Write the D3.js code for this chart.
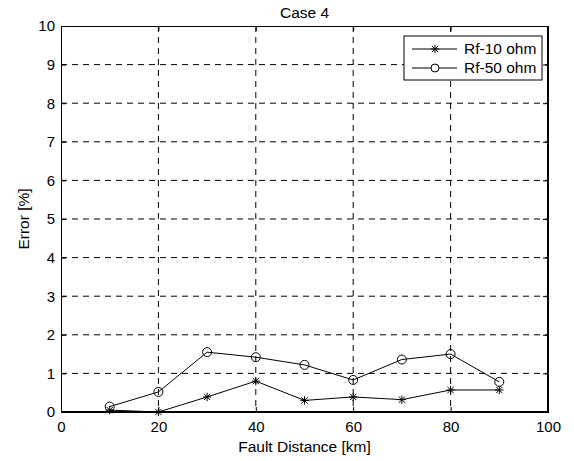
<!DOCTYPE html>
<html>
<head>
<meta charset="utf-8">
<script src="https://cdn.jsdelivr.net/npm/d3@7"></script>
<style>
  body { margin: 0; background: #fff; }
  svg text { font-family: "Liberation Sans", Arial, sans-serif; fill: #000; }
</style>
</head>
<body>
<div id="chart"></div>
<script>
// data
var distances = [10, 20, 30, 40, 50, 60, 70, 80, 90];
var rf10 = [0.05, 0.0, 0.39, 0.8, 0.3, 0.39, 0.32, 0.57, 0.57];
var rf50 = [0.14, 0.52, 1.55, 1.42, 1.22, 0.83, 1.36, 1.5, 0.78];
var seriesNames = ["Rf-10 ohm", "Rf-50 ohm"];
var xTicks = [0, 20, 40, 60, 80, 100];
var yTicks = [0, 1, 2, 3, 4, 5, 6, 7, 8, 9, 10];

var W = 574, H = 461;
var margin = { top: 26, right: 26, bottom: 49, left: 61 },
    width = W - margin.left - margin.right,
    height = H - margin.top - margin.bottom;

var svg = d3.select("#chart").append("svg")
    .attr("width", W)
    .attr("height", H);

var g = svg.append("g")
    .attr("transform", "translate(" + margin.left + "," + margin.top + ")");

var x = d3.scaleLinear().domain([0, 100]).range([0, width]);
var y = d3.scaleLinear().domain([0, 10]).range([height, 0]);

// grid
g.selectAll(".vgrid")
    .data(xTicks.slice(1, -1))
    .enter().append("line")
    .attr("x1", function (d) { return x(d); })
    .attr("x2", function (d) { return x(d); })
    .attr("y1", 0)
    .attr("y2", height)
    .attr("stroke", "#000")
    .attr("stroke-width", 1)
    .attr("stroke-dasharray", "6,5");

g.selectAll(".hgrid")
    .data(yTicks.slice(0, -1))
    .enter().append("line")
    .attr("x1", 0)
    .attr("x2", width)
    .attr("y1", function (d) { return y(d); })
    .attr("y2", function (d) { return y(d); })
    .attr("stroke", "#000")
    .attr("stroke-width", 1)
    .attr("stroke-dasharray", "6,5");

// axes, ticks pointing inward like matlab
var xAxis = g.append("g")
    .attr("transform", "translate(0," + height + ")")
    .call(d3.axisBottom(x).tickValues(xTicks).tickSize(-5).tickPadding(9).tickSizeOuter(0));
var xTop = g.append("g")
    .call(d3.axisTop(x).tickValues(xTicks).tickSize(-5).tickFormat("").tickSizeOuter(0));
var yAxis = g.append("g")
    .call(d3.axisLeft(y).tickValues(yTicks).tickSize(-5).tickPadding(6).tickSizeOuter(0));
var yRight = g.append("g")
    .attr("transform", "translate(" + width + ",0)")
    .call(d3.axisRight(y).tickValues(yTicks).tickSize(-5).tickFormat("").tickSizeOuter(0));

[xAxis, xTop, yAxis, yRight].forEach(function (a) {
    a.selectAll("path").attr("stroke", "#000");
    a.selectAll("line").attr("stroke", "#000");
    a.selectAll("text").style("font-size", "15px");
});

// thicker right and bottom border
g.append("line").attr("x1", 0).attr("x2", width + 1).attr("y1", height).attr("y2", height)
    .attr("stroke", "#000").attr("stroke-width", 2);
g.append("line").attr("x1", width).attr("x2", width).attr("y1", 0).attr("y2", height)
    .attr("stroke", "#000").attr("stroke-width", 2);

var line = d3.line()
    .x(function (d) { return x(d.x); })
    .y(function (d) { return y(d.y); });

function pts(vals) {
    return distances.map(function (d, i) { return { x: d, y: vals[i] }; });
}

function drawStar(sel, cx, cy) {
    var s = 4.2;
    var gg = sel.append("g").attr("transform", "translate(" + cx + "," + cy + ")");
    [[-s, 0, s, 0], [0, -s, 0, s], [-s * 0.75, -s * 0.75, s * 0.75, s * 0.75], [-s * 0.75, s * 0.75, s * 0.75, -s * 0.75]]
        .forEach(function (l) {
            gg.append("line")
                .attr("x1", l[0]).attr("y1", l[1]).attr("x2", l[2]).attr("y2", l[3])
                .attr("stroke", "#000").attr("stroke-width", 1);
        });
}

// Rf-10
g.append("path")
    .datum(pts(rf10))
    .attr("d", line)
    .attr("fill", "none")
    .attr("stroke", "#000")
    .attr("stroke-width", 1);
pts(rf10).forEach(function (d) { drawStar(g, x(d.x), y(d.y)); });

// Rf-50
g.append("path")
    .datum(pts(rf50))
    .attr("d", line)
    .attr("fill", "none")
    .attr("stroke", "#000")
    .attr("stroke-width", 1);
g.selectAll(".circ")
    .data(pts(rf50))
    .enter().append("circle")
    .attr("cx", function (d) { return x(d.x); })
    .attr("cy", function (d) { return y(d.y); })
    .attr("r", 4.5)
    .attr("fill", "none")
    .attr("stroke", "#000")
    .attr("stroke-width", 1);

// legend
var lg = svg.append("g").attr("transform", "translate(404,36)");
lg.append("rect")
    .attr("x", 0).attr("y", 0)
    .attr("width", 138).attr("height", 44)
    .attr("fill", "#fff")
    .attr("stroke", "#000")
    .attr("stroke-width", 1);
seriesNames.forEach(function (name, i) {
    var ly = 13 + i * 19;
    lg.append("line")
        .attr("x1", 8).attr("x2", 53)
        .attr("y1", ly).attr("y2", ly)
        .attr("stroke", "#000");
    if (i === 0) {
        drawStar(lg, 31, ly);
    } else {
        lg.append("circle").attr("cx", 31).attr("cy", ly).attr("r", 4)
            .attr("fill", "#fff").attr("stroke", "#000");
    }
    lg.append("text")
        .attr("x", 60).attr("y", ly)
        .attr("dy", "0.35em")
        .style("font-size", "15.5px")
        .text(name);
});

// title and labels
svg.append("text")
    .attr("x", margin.left + width / 2)
    .attr("y", 18)
    .attr("text-anchor", "middle")
    .style("font-size", "15.5px")
    .text("Case 4");

svg.append("text")
    .attr("x", margin.left + width / 2)
    .attr("y", 452)
    .attr("text-anchor", "middle")
    .style("font-size", "15.5px")
    .text("Fault Distance [km]");

svg.append("text")
    .attr("transform", "translate(29," + (margin.top + height / 2) + ")rotate(-90)")
    .attr("text-anchor", "middle")
    .style("font-size", "15.5px")
    .text("Error [%]");
</script>
</body>
</html>
